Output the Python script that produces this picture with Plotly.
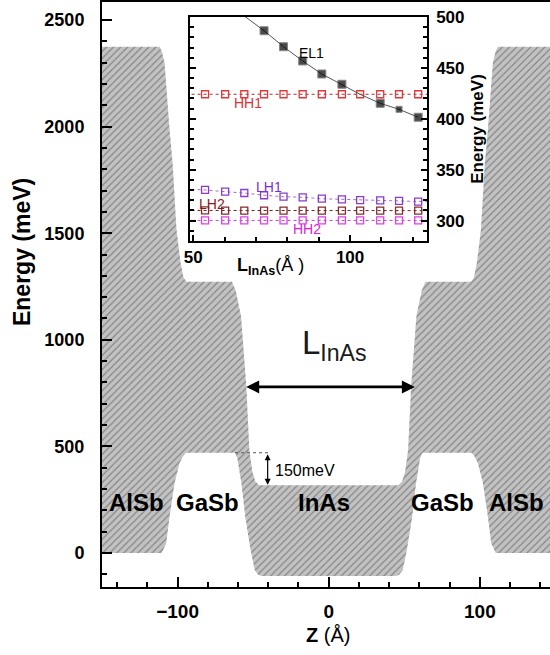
import plotly.graph_objects as go

# ---------------- main band-profile data ----------------
Z_CB = [-150, -112, -110.5, -108.6, -105.3, -103.3, -100.7, -98, -96, -94, -64, -61.5, -58, -54.5, -52.5,
        -50.5, -48.5, -46, 46, 48.5, 50.5, 52.5, 54.5, 58, 61.5, 64, 94, 96, 98, 100.7, 103.3, 105.3,
        108.6, 110.5, 112, 150]
E_CB = [2375, 2375, 2355, 2300, 1985, 1830, 1515, 1360, 1290, 1272, 1272, 1230, 1110, 780, 480,
        380, 335, 318, 318, 335, 380, 480, 780, 1110, 1230, 1272, 1272, 1290, 1360, 1515, 1830, 1985,
        2300, 2355, 2375, 2375]
Z_VB = [-150, -110.5, -107.5, -105.3, -102, -98.7, -96.5, -94.5, -62, -60.5, -57.8, -55.2, -51.7, -49,
        -46.5, -44, 44, 46.5, 49, 51.7, 55.2, 57.8, 60.5, 62, 94.5, 96.5, 98.7, 102, 105.3, 107.5, 110.5, 150]
E_VB = [0, 0, 45, 170, 328, 422, 452, 470, 470, 445, 328, 169, 14, -80,
        -104, -108, -108, -104, -80, 14, 169, 328, 445, 470, 470, 452, 422, 328, 170, 45, 0, 0]

LAYER_NAMES = ["AlSb", "GaSb", "InAs", "GaSb", "AlSb"]
LAYER_Z = [-127, -80, -3, 75.5, 124.5]
LAYER_E = [236, 236, 236, 236, 236]

# ---------------- inset data ----------------
L_EL = [53.8, 60.2, 66.3, 72.6, 78.8, 84.9, 91.0, 97.4, 103.2, 109.6, 115.6, 121.7]
EL1 = [535, 516, 501, 486.5, 470.8, 456.8, 444.0, 433.9, 424.0, 415.2, 409.3, 401.5]
EL1_MARK = [0, 0, 0, 8, 8, 8, 8, 8, 0, 8, 6, 8]

L_H = [47.6, 53.8, 60.2, 66.3, 72.6, 78.8, 84.9, 91.0, 97.4, 103.2, 109.6, 115.6, 121.7, 127.9]
HH1 = [424.1, 424.1, 424.1, 424.1, 424.1, 424.1, 424.1, 424.1, 424.1, 424.1, 424.1, 424.1, 424.1, 424.1]
LH1 = [331.0, 330.1, 328.4, 327.1, 324.9, 323.5, 322.9, 321.5, 320.9, 320.2, 319.9, 319.3, 318.6, 318.2]
LH2 = [310.0, 310.0, 309.9, 309.9, 309.8, 309.8, 309.8, 309.8, 309.8, 309.8, 309.9, 309.9, 309.8, 309.8]
HH2 = [300.2, 300.2, 300.2, 300.2, 300.2, 300.2, 300.2, 300.2, 300.2, 300.2, 300.2, 300.2, 300.2, 300.2]

FONT = "Arial, Liberation Sans, sans-serif"

fig = go.Figure()

# band gap region (between CB and VB), hatched
fig.add_trace(go.Scatter(
    x=Z_CB + Z_VB[::-1], y=E_CB + E_VB[::-1],
    mode="lines", fill="toself", line=dict(width=0, color="#a0a0a0"),
    fillcolor="#c2c2c2",
    fillpattern=dict(shape="/", bgcolor="#c2c2c2", fgcolor="#454545", size=5, solidity=0.24),
    hoverinfo="skip", showlegend=False, xaxis="x", yaxis="y"))

# inset series
def hole_trace(y, mcol, lcol):
    return go.Scatter(x=L_H, y=y, mode="lines+markers", xaxis="x2", yaxis="y2",
                      line=dict(color=lcol, width=1, dash="dot"),
                      marker=dict(symbol="square-open", size=7, color=mcol, line=dict(width=1.3, color=mcol)),
                      showlegend=False)

fig.add_trace(hole_trace(HH2, "#e040e8", "#c040c8"))
fig.add_trace(hole_trace(LH2, "#8b2a2a", "#6a2020"))
fig.add_trace(hole_trace(LH1, "#8a3ccf", "#9a70d0"))
fig.add_trace(hole_trace(HH1, "#e03838", "#a03030"))
fig.add_trace(go.Scatter(x=L_EL, y=EL1, mode="lines+markers", xaxis="x2", yaxis="y2",
                         line=dict(color="#555555", width=1),
                         marker=dict(symbol="square", size=EL1_MARK, color="black"),
                         showlegend=False))

annotations = []
for name, zz, ee in zip(LAYER_NAMES, LAYER_Z, LAYER_E):
    annotations.append(dict(x=zz, y=ee, xref="x", yref="y", text="<b>%s</b>" % name, showarrow=False,
                            font=dict(family=FONT, size=24, color="black"), xanchor="center", yanchor="middle"))

# L_InAs arrow and label
annotations.append(dict(x=57, y=779, ax=-55.6, ay=779, xref="x", yref="y", axref="x", ayref="y",
                        text="", showarrow=True, arrowhead=2, arrowside="end+start", arrowsize=1,
                        arrowwidth=2.6, arrowcolor="black", standoff=0, startstandoff=0))
annotations.append(dict(x=4, y=975, xref="x", yref="y", text="L<sub>InAs</sub>", showarrow=False,
                        font=dict(family=FONT, size=33, color="#1a1a1a"), xanchor="center", yanchor="middle"))
# 150 meV arrow and label
annotations.append(dict(x=-40.4, y=320, ax=-40.4, ay=470, xref="x", yref="y", axref="x", ayref="y",
                        text="", showarrow=True, arrowhead=2, arrowside="end+start", arrowsize=1,
                        arrowwidth=1.2, arrowcolor="black", standoff=0, startstandoff=0))
annotations.append(dict(x=-37, y=389, xref="x", yref="y", text="150meV", showarrow=False,
                        font=dict(family=FONT, size=16, color="black"), xanchor="left", yanchor="middle"))

# main axis titles
annotations.append(dict(x=-0.1786, y=0.5726, xref="paper", yref="paper", text="<b>Energy (meV)</b>",
                        textangle=-90, showarrow=False, font=dict(family=FONT, size=23, color="black"),
                        xanchor="center", yanchor="middle"))
annotations.append(dict(x=0.5045, y=-0.082, xref="paper", yref="paper", text="<b>Z</b> (Å)",
                        showarrow=False, font=dict(family=FONT, size=20, color="black"),
                        xanchor="center", yanchor="middle"))

# inset labels
INSET_LABELS = [("EL1", 87.8, 464.3, "black"), ("HH1", 67.5, 415.5, "#e03030"),
                ("LH1", 74.3, 332.7, "#7a30d0"), ("LH2", 56.0, 316.3, "#8b1a1a"),
                ("HH2", 86.2, 291.4, "#e020e0")]
for t, xx, yy, c in INSET_LABELS:
    annotations.append(dict(x=xx, y=yy, xref="x2", yref="y2", text=t, showarrow=False,
                            font=dict(family=FONT, size=14, color=c), xanchor="center", yanchor="middle"))
# inset x title (paper coords so it is not hidden outside the inset range)
annotations.append(dict(x=0.375, y=0.5487, xref="paper", yref="paper", text="<b>L<sub>InAs</sub></b>(Å )",
                        showarrow=False, font=dict(family=FONT, size=18, color="black"),
                        xanchor="center", yanchor="middle"))

shapes = [dict(type="line", xref="x", yref="y", x0=-62, x1=-39, y0=470, y1=470,
               line=dict(color="#555555", width=1, dash="dot"))]

fig.update_layout(
    width=550, height=655, autosize=False,
    margin=dict(l=102, r=0, t=2, b=68, pad=0),
    paper_bgcolor="white", plot_bgcolor="white",
    font=dict(family=FONT, color="black"),
    showlegend=False,
    annotations=annotations, shapes=shapes,
    xaxis=dict(range=[-150, 146.4], dtick=100, tick0=0, ticks="inside", ticklen=10, tickwidth=2,
               tickcolor="black", minor=dict(dtick=20, ticks="inside", ticklen=5, tickwidth=2, tickcolor="black"),
               showline=True, linewidth=2, linecolor="black", mirror=True, showgrid=False, zeroline=False,
               automargin=False,
               tickfont=dict(family=FONT, size=19, color="black", weight="bold"), ticklabelstandoff=6),
    yaxis=dict(range=[-160, 2585], dtick=500, tick0=0, ticks="inside", ticklen=10, tickwidth=2,
               tickcolor="black", minor=dict(dtick=100, ticks="inside", ticklen=5, tickwidth=2, tickcolor="black"),
               showline=True, linewidth=2, linecolor="black", mirror=False, showgrid=False, zeroline=False,
               automargin=False,
               tickfont=dict(family=FONT, size=18, color="black", weight="bold"), ticklabelstandoff=12),
    xaxis2=dict(domain=[0.1964, 0.7254], anchor="y2", range=[49, 124.5], dtick=50, tick0=0,
                ticks="inside", ticklen=6, tickwidth=1.5, tickcolor="black",
                minor=dict(dtick=10, ticks="inside", ticklen=4, tickwidth=1.5, tickcolor="black"),
                showline=True, linewidth=1.5, linecolor="black", mirror=True, showgrid=False, zeroline=False,
                automargin=False,
                tickfont=dict(family=FONT, size=17, color="black", weight="bold")),
    yaxis2=dict(domain=[0.5915, 0.9744], anchor="x2", side="right", range=[280, 500], dtick=50, tick0=0,
                ticks="inside", ticklen=6, tickwidth=1.5, tickcolor="black",
                minor=dict(dtick=10, ticks="inside", ticklen=4, tickwidth=1.5, tickcolor="black"),
                showline=True, linewidth=1.5, linecolor="black", mirror="ticks", showgrid=False, zeroline=False,
                automargin=False,
                tickfont=dict(family=FONT, size=17, color="black", weight="bold"), ticklabelstandoff=4,
                title=dict(text="<b>Energy (meV)</b>", font=dict(family=FONT, size=17, color="black"), standoff=8)),
)

fig.write_html("out.html")
